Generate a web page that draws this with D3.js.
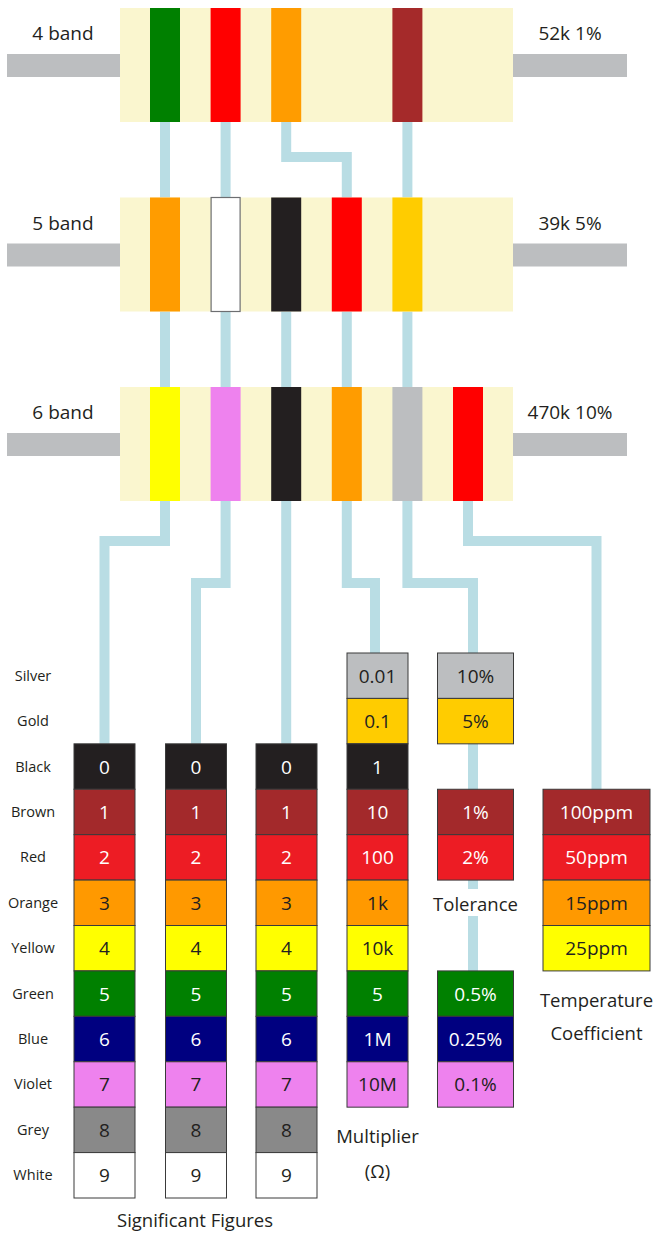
<!DOCTYPE html>
<html>
<head>
<meta charset="utf-8">
<script src="https://cdn.jsdelivr.net/npm/d3@7"></script>
<style>
  body { margin: 0; background: #fff; }
  text { font-family: "Open Sans", sans-serif; fill: #231f20; }
</style>
</head>
<body>
<div id="chart"></div>
<script>
// resistor colour code chart

// colour names down the side of the table, top to bottom
var colorNames = ["Silver", "Gold", "Black", "Brown", "Red", "Orange", "Yellow", "Green", "Blue", "Violet", "Grey", "White"];
var tableFills = ["#bcbec0", "#ffcc00", "#231f20", "#a3292b", "#ed1c24", "#ff9900", "#ffff00", "#008000", "#000080", "#ee82ee", "#898989", "#ffffff"];
var lightText = ["Black", "Brown", "Red", "Green", "Blue"];

// table columns
var sigRows = ["Black", "Brown", "Red", "Orange", "Yellow", "Green", "Blue", "Violet", "Grey", "White"];
var sigValues = ["0", "1", "2", "3", "4", "5", "6", "7", "8", "9"];
var multRows = ["Silver", "Gold", "Black", "Brown", "Red", "Orange", "Yellow", "Green", "Blue", "Violet"];
var multValues = ["0.01", "0.1", "1", "10", "100", "1k", "10k", "5", "1M", "10M"];
var tolRows = ["Silver", "Gold", "Brown", "Red", "Green", "Blue", "Violet"];
var tolValues = ["10%", "5%", "1%", "2%", "0.5%", "0.25%", "0.1%"];
var tempRows = ["Brown", "Red", "Orange", "Yellow"];
var tempValues = ["100ppm", "50ppm", "15ppm", "25ppm"];

// the three example resistors
var resistorNames = ["4 band", "5 band", "6 band"];
var resistorValues = ["52k 1%", "39k 5%", "470k 10%"];
var bands4 = ["Green", "Red", "Orange", null, "Brown"];
var bands5 = ["Orange", "White", "Black", "Red", "Gold"];
var bands6 = ["Yellow", "Violet", "Black", "Orange", "Silver", "Red"];

var bandColor = d3.scaleOrdinal()
  .domain(["Green", "Red", "Orange", "Brown", "White", "Black", "Gold", "Yellow", "Violet", "Silver"])
  .range(["#008000", "#ff0000", "#ff9c00", "#a52a2a", "#ffffff", "#231f20", "#ffcc00", "#ffff00", "#ee82ee", "#bcbec0"]);
var tableColor = d3.scaleOrdinal().domain(colorNames).range(tableFills);

var width = 653, height = 1234;
var bodyH = 114, bandW = 30, linkW = 10, linkColor = "#b9dde4";

var svg = d3.select("#chart").append("svg")
  .attr("width", width)
  .attr("height", height);

var resY = d3.scaleLinear().domain([0, 2]).range([8, 387]);
var bandX = d3.scaleLinear().domain([0, 5]).range([150, 453]);
var rowY = d3.scaleBand().domain(colorNames).range([653, 1198]);
var bandMid = function(i) { return bandX(i) + bandW / 2; };

// table column positions
var columns = [
  {x: 74,    w: 61,  rows: sigRows,  vals: sigValues},
  {x: 165.5, w: 61,  rows: sigRows,  vals: sigValues},
  {x: 256,   w: 61,  rows: sigRows,  vals: sigValues},
  {x: 347,   w: 61,  rows: multRows, vals: multValues},
  {x: 437.5, w: 76,  rows: tolRows,  vals: tolValues},
  {x: 543,   w: 107, rows: tempRows, vals: tempValues}
];
var colMid = function(c) { return c.x + c.w / 2; };

var line = d3.line();
var links = svg.append("g")
  .attr("fill", "none")
  .attr("stroke", linkColor)
  .attr("stroke-width", linkW);

// 4 band -> 5 band
var y0 = resY(0) + bodyH, y1 = resY(1);
bands4.forEach(function(b, i) {
  if (!b) return;
  var to = (i == 2) ? 3 : i;
  var pts = (to == i) ? [[bandMid(i), y0], [bandMid(i), y1]]
    : [[bandMid(i), y0], [bandMid(i), 157], [bandMid(to), 157], [bandMid(to), y1]];
  links.append("path").attr("d", line(pts));
});

// 5 band -> 6 band
bands5.forEach(function(b, i) {
  links.append("path").attr("d", line([[bandMid(i), resY(1) + bodyH], [bandMid(i), resY(2)]]));
});

// 6 band -> table columns
var elbows = [541, 583, null, 583, 583, 541];
bands6.forEach(function(b, i) {
  var c = columns[i];
  var top = rowY(c.rows[0]);
  var sx = bandMid(i), ex = colMid(c) - (i == 3 || i == 4 ? 2.5 : 0), sy = resY(2) + bodyH;
  var pts = elbows[i] == null ? [[sx, sy], [sx, top]]
    : [[sx, sy], [sx, elbows[i]], [ex, elbows[i]], [ex, top]];
  links.append("path").attr("d", line(pts));
});

// tolerance column runs through its gaps
links.append("path").attr("d", line([[colMid(columns[4]) - 2.5, rowY("Gold")], [colMid(columns[4]) - 2.5, rowY("Green")]]));

// resistors
[bands4, bands5, bands6].forEach(function(bands, r) {
  var g = svg.append("g");
  var top = resY(r), mid = top + bodyH / 2;
  g.append("rect").attr("x", 7).attr("y", mid - 11).attr("width", 113).attr("height", 23).attr("fill", "#bcbec0");
  g.append("rect").attr("x", 513).attr("y", mid - 11).attr("width", 114).attr("height", 23).attr("fill", "#bcbec0");
  g.append("rect").attr("x", 120).attr("y", top).attr("width", 393).attr("height", bodyH).attr("fill", "#faf6cf");
  g.selectAll("rect.band")
    .data(bands.map(function(b, i) { return {name: b, i: i}; }).filter(function(d) { return d.name; }))
    .enter().append("rect")
      .attr("class", "band")
      .attr("x", function(d) { return bandX(d.i) + (d.name == "White" ? 0.5 : 0); })
      .attr("y", top)
      .attr("width", function(d) { return d.name == "White" ? bandW - 1 : bandW; })
      .attr("height", bodyH)
      .attr("fill", function(d) { return bandColor(d.name); })
      .attr("stroke", function(d) { return d.name == "White" ? "#6d6e71" : "none"; })
      .attr("stroke-width", 1.2);
  g.append("text").attr("x", 63).attr("y", mid - 25).attr("text-anchor", "middle")
    .attr("font-size", 19).text(resistorNames[r]);
  g.append("text").attr("x", 570).attr("y", mid - 25).attr("text-anchor", "middle")
    .attr("font-size", 19).text(resistorValues[r]);
});

// row labels
svg.append("g").selectAll("text")
  .data(colorNames)
  .enter().append("text")
    .attr("x", 33)
    .attr("y", function(d) { return rowY(d) + rowY.bandwidth() / 2 + 5; })
    .attr("text-anchor", "middle")
    .attr("font-size", 14.5)
    .text(function(d) { return d; });

// table cells
columns.forEach(function(c) {
  var cells = svg.append("g").selectAll("g")
    .data(c.rows.map(function(r, i) { return {row: r, val: c.vals[i]}; }))
    .enter().append("g");
  cells.append("rect")
    .attr("x", c.x)
    .attr("y", function(d) { return rowY(d.row); })
    .attr("width", c.w)
    .attr("height", rowY.bandwidth())
    .attr("fill", function(d) { return tableColor(d.row); })
    .attr("stroke", "#3a3a3a")
    .attr("stroke-width", 1);
  cells.append("text")
    .attr("x", colMid(c))
    .attr("y", function(d) { return rowY(d.row) + rowY.bandwidth() / 2 + 7; })
    .attr("text-anchor", "middle")
    .attr("font-size", 19)
    .style("fill", function(d) { return lightText.indexOf(d.row) >= 0 ? "#ffffff" : "#231f20"; })
    .text(function(d) { return d.val; });
});

// column titles
var titles = svg.append("g").attr("font-size", 18.5).attr("text-anchor", "middle");
var tol = titles.append("text").attr("x", colMid(columns[4])).attr("y", 911).text("Tolerance");
var bb = tol.node().getBBox();
titles.insert("rect", "text").attr("x", bb.x).attr("y", 889).attr("width", bb.width).attr("height", 27).attr("fill", "#fff");
titles.append("text").attr("x", 195).attr("y", 1227).text("Significant Figures");
titles.append("text").attr("x", colMid(columns[3])).attr("y", 1143).text("Multiplier");
titles.append("text").attr("x", colMid(columns[3])).attr("y", 1178).text("(\u03a9)");
titles.append("text").attr("x", colMid(columns[5])).attr("y", 1007).text("Temperature");
titles.append("text").attr("x", colMid(columns[5])).attr("y", 1040).text("Coefficient");
</script>
</body>
</html>
